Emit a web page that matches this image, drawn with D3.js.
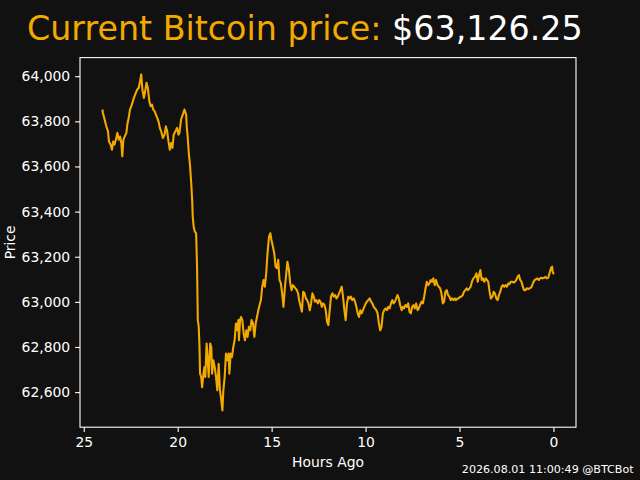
<!DOCTYPE html>
<html>
<head>
<meta charset="utf-8">
<script src="https://cdn.jsdelivr.net/npm/d3@7"></script>
<style>
  html, body { margin: 0; padding: 0; background: #111111; }
  svg { display: block; }
  text { font-family: "DejaVu Sans", sans-serif; }
</style>
</head>
<body>
<svg id="chart" width="640" height="480"></svg>
<script>
// ---- data ----
const hoursAgo = [
  24.00,23.98,23.89,23.80,23.71,23.66,23.57,23.50,23.43,23.36,23.27,23.21,23.14,23.07,23.00,22.95,22.89,22.82,22.73,22.68,
  22.61,22.54,22.44,22.33,22.23,22.15,22.07,21.99,21.94,21.88,21.80,21.73,21.66,21.59,21.51,21.44,21.37,21.30,21.23,21.16,
  21.09,21.02,20.95,20.88,20.79,20.70,20.63,20.56,20.49,20.42,20.35,20.28,20.21,20.12,20.03,19.96,19.91,19.82,19.73,19.64,
  19.55,19.52,19.47,19.41,19.34,19.28,19.23,19.20,19.15,19.09,19.02,18.97,18.93,18.88,18.84,18.81,18.75,18.70,18.63,18.58,
  18.53,18.46,18.40,18.35,18.27,18.21,18.17,18.10,18.03,17.96,17.89,17.82,17.75,17.68,17.62,17.57,17.50,17.43,17.36,17.29,
  17.25,17.18,17.11,17.04,16.97,16.90,16.83,16.77,16.74,16.68,16.63,16.56,16.49,16.42,16.35,16.28,16.21,16.14,16.07,15.99,
  15.92,15.85,15.78,15.71,15.64,15.57,15.50,15.43,15.36,15.29,15.22,15.14,15.07,15.01,14.93,14.86,14.79,14.72,14.65,14.58,
  14.51,14.44,14.37,14.29,14.22,14.16,14.08,14.01,13.94,13.87,13.80,13.73,13.66,13.59,13.54,13.45,13.39,13.32,13.25,13.18,
  13.11,13.04,12.97,12.90,12.83,12.76,12.69,12.62,12.54,12.47,12.40,12.33,12.26,12.19,12.12,12.05,11.98,11.91,11.84,11.77,
  11.69,11.62,11.55,11.48,11.41,11.34,11.27,11.20,11.13,11.06,10.99,10.92,10.84,10.78,10.71,10.63,10.56,10.49,10.42,10.35,
  10.28,10.21,10.14,10.07,9.99,9.93,9.86,9.78,9.71,9.64,9.57,9.50,9.43,9.36,9.29,9.22,9.15,9.08,9.01,8.93,
  8.86,8.79,8.72,8.65,8.58,8.51,8.44,8.37,8.30,8.23,8.16,8.08,8.01,7.95,7.87,7.80,7.73,7.66,7.59,7.52,
  7.45,7.38,7.31,7.23,7.17,7.10,7.02,6.95,6.88,6.81,6.74,6.67,6.60,6.53,6.46,6.39,6.32,6.25,6.17,6.10,
  6.03,5.96,5.89,5.82,5.75,5.68,5.61,5.54,5.47,5.40,5.32,5.25,5.19,5.11,5.04,4.97,4.90,4.83,4.76,4.69,
  4.62,4.55,4.47,4.41,4.34,4.26,4.18,4.10,4.03,3.96,3.89,3.82,3.75,3.68,3.61,3.54,3.47,3.40,3.33,3.25,
  3.18,3.12,3.04,2.97,2.90,2.83,2.76,2.69,2.62,2.55,2.48,2.40,2.34,2.27,2.19,2.12,2.05,1.98,1.91,1.84,
  1.77,1.70,1.63,1.56,1.49,1.42,1.34,1.27,1.20,1.13,1.06,0.99,0.92,0.85,0.78,0.71,0.64,0.57,0.49,0.42,
  0.36,0.28,0.21,0.14,0.07,0.04,0.00
];
const prices = [
  63848,63837,63808,63778,63756,63711,63697,63674,63711,63697,63726,63749,63719,63733,63704,63645,63719,63733,63749,63786,
  63815,63852,63874,63904,63926,63941,63949,63985,64008,63941,63904,63933,63971,63949,63889,63867,63874,63852,63845,63830,
  63815,63800,63771,63756,63726,63741,63778,63756,63711,63674,63704,63682,63741,63756,63771,63741,63748,63808,63830,63852,
  63830,63778,63733,63660,63600,63526,63452,63378,63333,63311,63304,63156,62919,62889,62800,62682,62667,62622,62682,62711,
  62667,62815,62741,62667,62815,62800,62682,62741,62711,62667,62608,62726,62608,62563,62519,62608,62667,62771,62741,62771,
  62682,62771,62756,62800,62830,62904,62874,62919,62830,62919,62933,62919,62860,62830,62874,62845,62889,62874,62919,62904,
  62845,62904,62933,62963,62986,63008,63067,63097,63067,63126,63215,63289,63304,63274,63244,63215,63156,63149,63186,63097,
  63082,63038,62978,63067,63126,63178,63141,63082,63052,63074,63067,63060,63052,63038,63008,62978,62956,63045,63038,63015,
  63008,62993,62963,62993,63038,63023,63001,63008,62993,63008,63001,62978,62993,62986,62963,62911,62897,62963,63023,63038,
  63023,63030,63015,63023,63038,63052,63067,63023,62963,62919,62993,63023,63015,63023,63008,63015,63001,62978,62949,62933,
  62963,62949,62963,62978,62993,63001,63008,63015,63001,62993,62978,62971,62963,62949,62904,62874,62889,62949,62963,62971,
  62963,62978,62971,62993,63008,62993,63001,63015,63030,63015,62986,62963,62978,62971,62986,62978,62993,62956,62949,62978,
  62986,62971,62993,62963,62971,62986,63001,62993,63023,63060,63089,63074,63082,63097,63089,63104,63074,63097,63074,63067,
  63060,63038,62993,63001,63045,63052,63030,63023,63008,63015,63008,63015,63008,63015,63015,63023,63023,63030,63045,63052,
  63060,63052,63060,63067,63089,63104,63111,63126,63089,63119,63141,63097,63104,63089,63104,63097,63089,63045,63015,63023,
  63045,63038,63015,63008,63030,63045,63067,63074,63067,63074,63067,63082,63078,63089,63089,63086,63089,63097,63111,63119,
  63097,63089,63067,63052,63052,63060,63057,63060,63063,63074,63089,63097,63101,63104,63097,63104,63107,63104,63107,63111,
  63104,63107,63126,63148,63156,63133,63126.25
];
const xTickValues = [25, 20, 15, 10, 5, 0];
const xTickLabels = ["25", "20", "15", "10", "5", "0"];
const yTickValues = [62600, 62800, 63000, 63200, 63400, 63600, 63800, 64000];
const yTickLabels = ["62,600", "62,800", "63,000", "63,200", "63,400", "63,600", "63,800", "64,000"];
const titleLabel = "Current Bitcoin price: ";
const currentPrice = "$63,126.25";
const xLabel = "Hours Ago";
const yLabel = "Price";
const footer = "2026.08.01 11:00:49 @BTCBot";

// ---- layout ----
const W = 640, H = 480;
const M = { left: 80, right: 576, top: 57.6, bottom: 427.2 };
const orange = "#f2a900";
const fg = "#ffffff";

const svg = d3.select("#chart");
svg.append("rect").attr("width", W).attr("height", H).attr("fill", "#111111");

const data = hoursAgo.map((h, i) => ({ h, p: prices[i] }));

const hExt = d3.extent(hoursAgo), pExt = d3.extent(prices);
const hPad = (hExt[1] - hExt[0]) * 0.05, pPad = (pExt[1] - pExt[0]) * 0.05;

const x = d3.scaleLinear().domain([hExt[1] + hPad, hExt[0] - hPad]).range([M.left, M.right]);
const y = d3.scaleLinear().domain([pExt[0] - pPad, pExt[1] + pPad]).range([M.bottom, M.top]);

// line
const line = d3.line().x(d => x(d.h)).y(d => y(d.p));
svg.append("path")
  .datum(data)
  .attr("fill", "none")
  .attr("stroke", orange)
  .attr("stroke-width", 2.08)
  .attr("stroke-linejoin", "round")
  .attr("stroke-linecap", "square")
  .attr("d", line);

// axes
const xAxis = d3.axisBottom(x).tickValues(xTickValues)
  .tickFormat((d, i) => xTickLabels[i]).tickSizeInner(4.9).tickSizeOuter(0).tickPadding(4.9);
const yAxis = d3.axisLeft(y).tickValues(yTickValues)
  .tickFormat((d, i) => yTickLabels[i]).tickSizeInner(4.9).tickSizeOuter(0).tickPadding(4.9);

const gx = svg.append("g").attr("transform", `translate(0,${M.bottom})`).call(xAxis);
const gy = svg.append("g").attr("transform", `translate(${M.left},0)`).call(yAxis);
[gx, gy].forEach(g => {
  g.select(".domain").remove();
  g.selectAll(".tick line").attr("stroke", fg).attr("stroke-width", 1.1);
  g.selectAll(".tick text").attr("fill", fg).attr("font-size", "13.9px")
    .attr("font-family", "DejaVu Sans, sans-serif");
});
gx.selectAll(".tick text").attr("dy", "0.71em");

// frame
svg.append("rect")
  .attr("x", M.left).attr("y", M.top)
  .attr("width", M.right - M.left).attr("height", M.bottom - M.top)
  .attr("fill", "none").attr("stroke", fg).attr("stroke-width", 1.1);

// axis labels
svg.append("text")
  .attr("x", (M.left + M.right) / 2).attr("y", 467)
  .attr("text-anchor", "middle").attr("fill", fg).attr("font-size", "13.9px")
  .text(xLabel);
svg.append("text")
  .attr("transform", `translate(15,${(M.top + M.bottom) / 2}) rotate(-90)`)
  .attr("text-anchor", "middle").attr("fill", fg).attr("font-size", "13.9px")
  .text(yLabel);

// title
const title = svg.append("text")
  .attr("x", 27).attr("y", 40)
  .attr("font-size", "33.3px");
title.append("tspan").attr("fill", orange).text(titleLabel);
title.append("tspan").attr("fill", fg).text(currentPrice);

// footer
svg.append("text")
  .attr("x", 633.6).attr("y", 473)
  .attr("text-anchor", "end").attr("fill", fg).attr("font-size", "11.1px")
  .text(footer);
</script>
</body>
</html>
